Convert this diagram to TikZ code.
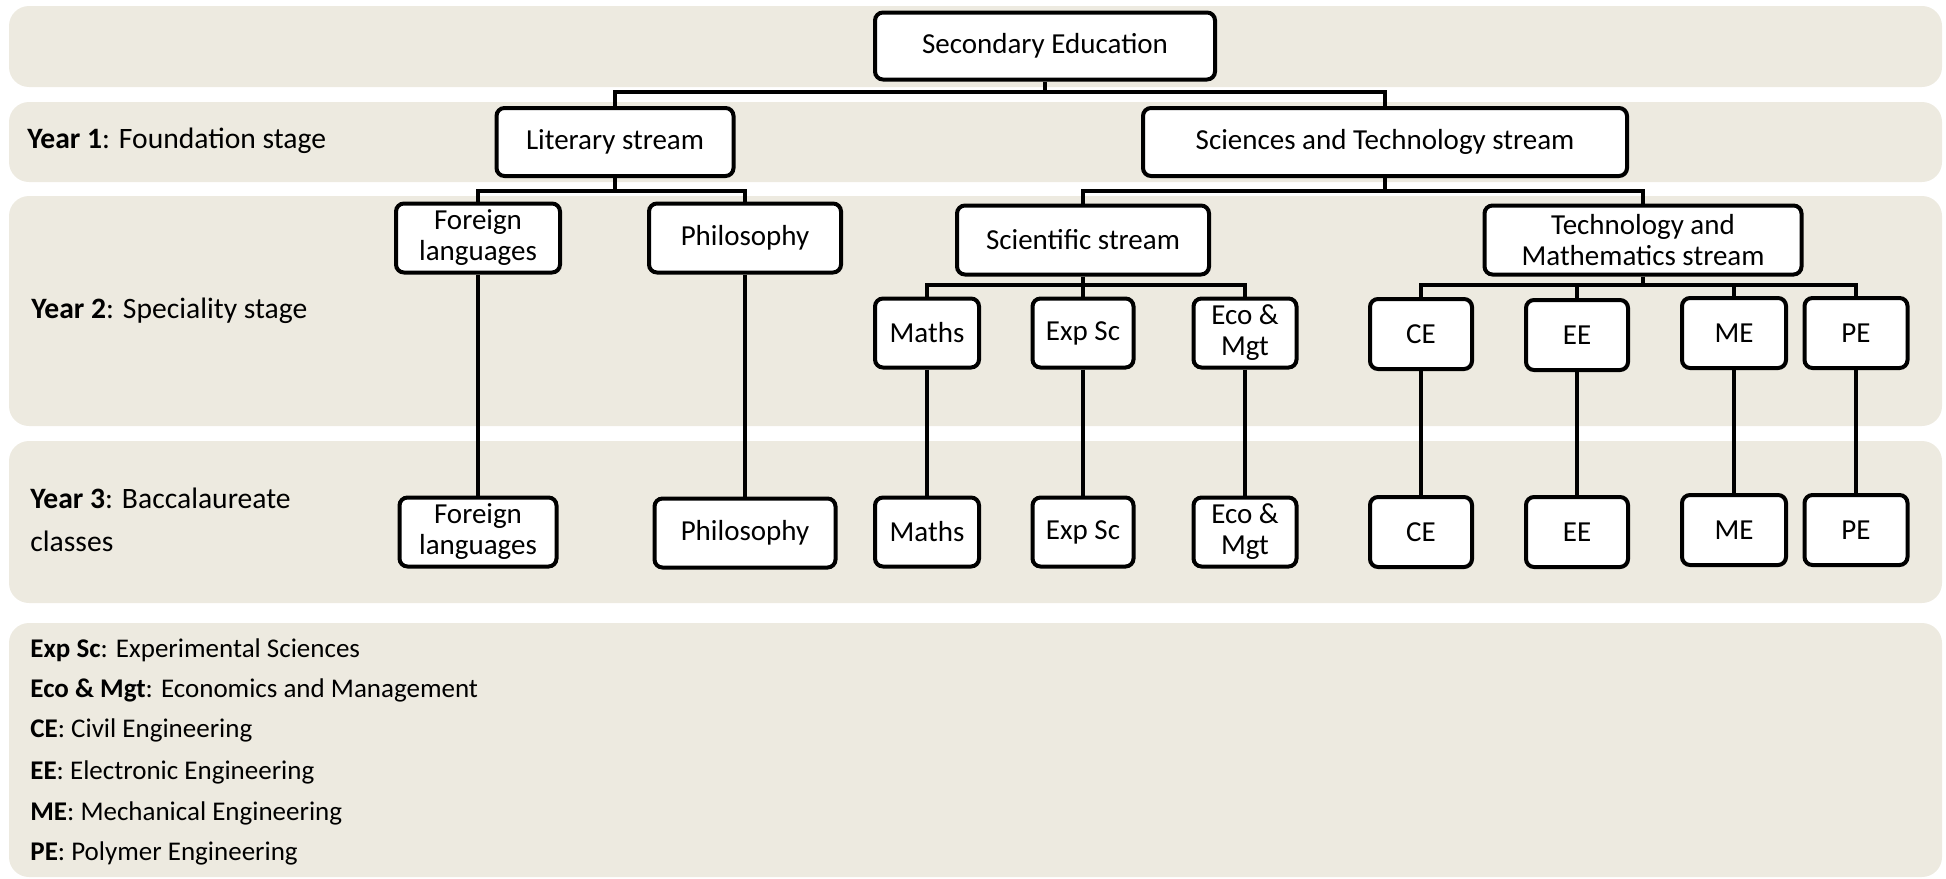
\documentclass[tikz,border=0pt]{standalone}
\usepackage{fontspec}
\setmainfont{Carlito}
\definecolor{bandfill}{HTML}{EDEAE0}
\newcommand{\boxfont}{\fontsize{14.5}{15.5}\selectfont}
\newcommand{\yearfont}{\fontsize{14.8}{21.5}\selectfont}
\newcommand{\keyfont}{\fontsize{13.5}{16}\selectfont}
\tikzset{
  band/.style={fill=bandfill, draw=none, rounded corners=10pt},
  box/.style={draw=black, line width=2pt, rounded corners=4pt, fill=white,
              align=center, inner sep=0pt, font=\boxfont},
  sz/.style 2 args={minimum width=#1*0.5pt, minimum height=#2*0.5pt},
  link/.style={line width=2pt},
  yearlabel/.style={anchor=west, inner sep=0pt, align=left, font=\yearfont},
  keyline/.style={anchor=west, inner sep=0pt, font=\keyfont},
}
\begin{document}
\begin{tikzpicture}[x=0.5pt, y=-0.5pt]
\useasboundingbox (0,0) rectangle (1946,878);

% background bands, one per stage
\fill[band] (9,6) rectangle (1942,87);
\fill[band] (9,102) rectangle (1942,182);
\fill[band] (9,196) rectangle (1942,426);
\fill[band] (9,441) rectangle (1942,603);
\fill[band] (9,623) rectangle (1942,877);

% stage labels
\node[yearlabel] (y1) at (27,141) {\textbf{Year 1}: Foundation stage};
\node[yearlabel] (y2) at (31,311) {\textbf{Year 2}: Speciality stage};
\node[yearlabel] (y3) at (30,520) {\textbf{Year 3}: Baccalaureate\\classes};

% root and year 1
\node[box, sz={340}{67}] (sec) at (1045,46) {Secondary Education};
\node[box, sz={237}{68}] (lit) at (615,142) {Literary stream};
\node[box, sz={484}{68}] (sts) at (1385,142) {Sciences and Technology stream};

% year 2
\node[box, sz={164}{69}] (fl2) at (478,238) {Foreign\\languages};
\node[box, sz={192}{69}] (ph2) at (745,238) {Philosophy};
\node[box, sz={252}{69}] (sci) at (1083,240) {Scientific stream};
\node[box, sz={317}{69}] (tms) at (1643,240) {Technology and\\Mathematics stream};

\node[box, sz={104}{69}] (ma2) at (927,333) {Maths};
\node[box, sz={101}{69}] (ex2) at (1083,333) {Exp Sc};
\node[box, sz={103}{69}] (ec2) at (1245,333) {Eco \&\\Mgt};
\node[box, sz={102}{70}] (ce2) at (1421,334) {CE};
\node[box, sz={102}{70}] (ee2) at (1577,335) {EE};
\node[box, sz={104}{70}] (me2) at (1734,333) {ME};
\node[box, sz={103}{70}] (pe2) at (1856,333) {PE};

% year 3
\node[box, sz={157}{69}] (fl3) at (478,532) {Foreign\\languages};
\node[box, sz={181}{69}] (ph3) at (745,533) {Philosophy};
\node[box, sz={104}{69}] (ma3) at (927,532) {Maths};
\node[box, sz={101}{69}] (ex3) at (1083,532) {Exp Sc};
\node[box, sz={103}{69}] (ec3) at (1245,532) {Eco \&\\Mgt};
\node[box, sz={102}{70}] (ce3) at (1421,532) {CE};
\node[box, sz={102}{70}] (ee3) at (1577,532) {EE};
\node[box, sz={104}{70}] (me3) at (1734,530) {ME};
\node[box, sz={103}{70}] (pe3) at (1856,530) {PE};

% tree connectors
\draw[link] (sec.south) -- (sec.south |- 0,92);
\draw[link] (lit.north) |- (sts.north |- 0,92) -- (sts.north);

\draw[link] (lit.south) -- (lit.south |- 0,191);
\draw[link] (fl2.north) |- (ph2.north |- 0,191) -- (ph2.north);

\draw[link] (sts.south) -- (sts.south |- 0,191);
\draw[link] (sci.north) |- (tms.north |- 0,191) -- (tms.north);

\draw[link] (sci.south) -- (sci.south |- 0,285);
\draw[link] (ma2.north) |- (ec2.north |- 0,285) -- (ec2.north);
\draw[link] (ex2.north) -- (ex2.north |- 0,285);

\draw[link] (tms.south) -- (tms.south |- 0,285);
\draw[link] (ce2.north) |- (pe2.north |- 0,285) -- (pe2.north);
\draw[link] (ee2.north) -- (ee2.north |- 0,285);
\draw[link] (me2.north) -- (me2.north |- 0,285);

\draw[link] (fl2.south) -- (fl3.north);
\draw[link] (ph2.south) -- (ph3.north);
\draw[link] (ma2.south) -- (ma3.north);
\draw[link] (ex2.south) -- (ex3.north);
\draw[link] (ec2.south) -- (ec3.north);
\draw[link] (ce2.south) -- (ce3.north);
\draw[link] (ee2.south) -- (ee3.north);
\draw[link] (me2.south) -- (me3.north);
\draw[link] (pe2.south) -- (pe3.north);

% key to abbreviations
\node[keyline] (k1) at (30,650) {\textbf{Exp Sc}: Experimental Sciences};
\node[keyline] (k2) at (30,690) {\textbf{Eco \& Mgt}: Economics and Management};
\node[keyline] (k3) at (30,730) {\textbf{CE}: Civil Engineering};
\node[keyline] (k4) at (30,772) {\textbf{EE}: Electronic Engineering};
\node[keyline] (k5) at (30,813) {\textbf{ME}: Mechanical Engineering};
\node[keyline] (k6) at (30,853) {\textbf{PE}: Polymer Engineering};
\end{tikzpicture}
\end{document}
